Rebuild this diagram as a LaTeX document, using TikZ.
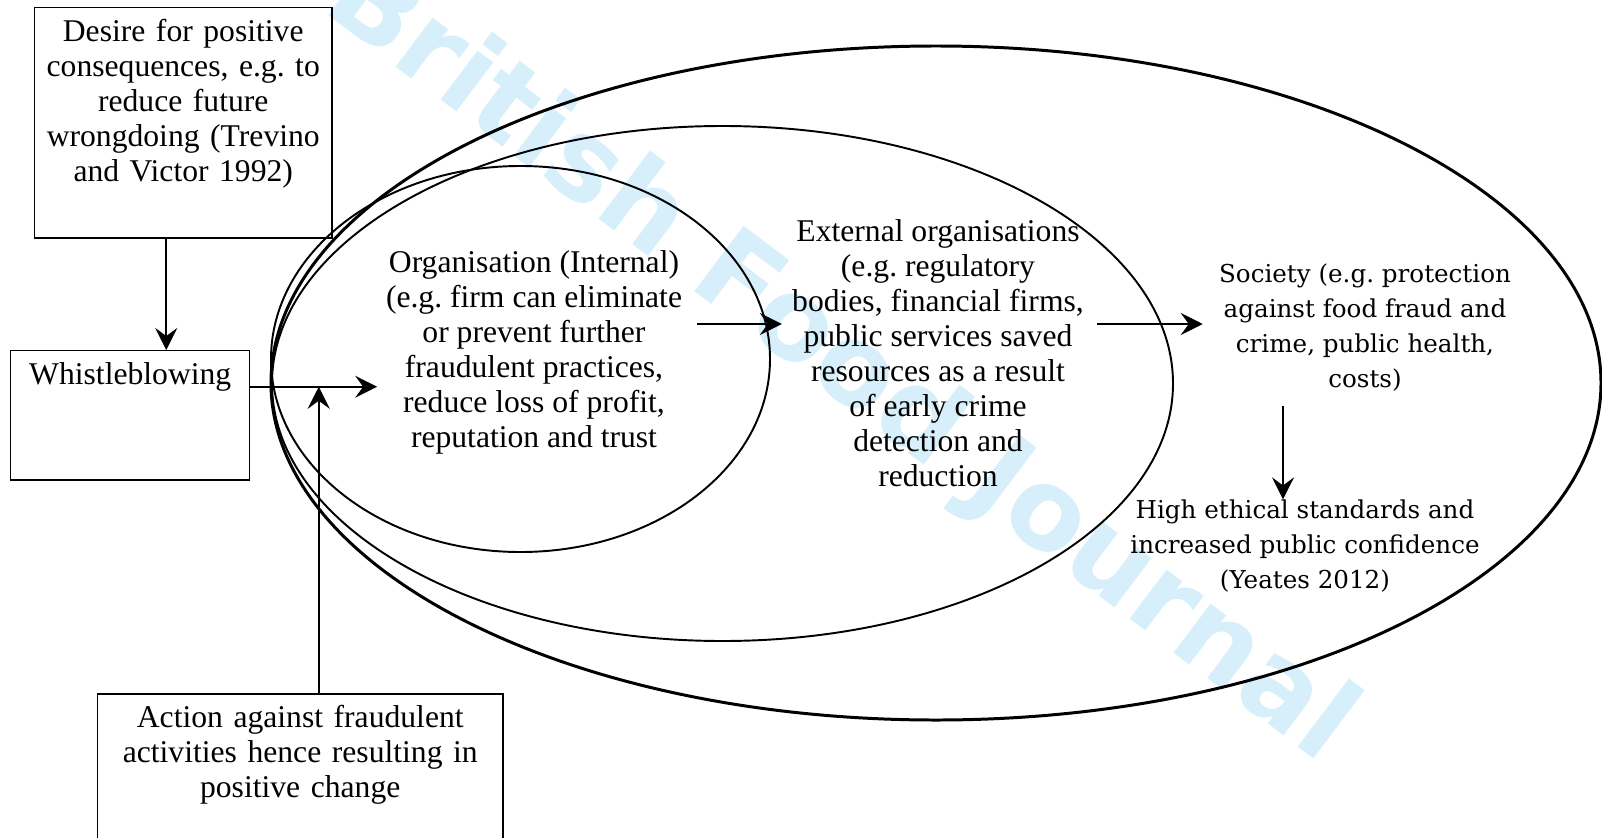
\documentclass[tikz,border=0pt]{standalone}
\usepackage{fontspec}
\setmainfont{Liberation Serif}
\newfontfamily\socfont{DejaVu Serif}
\newfontfamily\wmfont{DejaVu Sans}
\usepackage{xcolor}
\usetikzlibrary{arrows.meta}
\definecolor{wmblue}{RGB}{214,239,250}
\frenchspacing

\begin{document}
\begin{tikzpicture}[x=0.2mm,y=-0.2mm]
\useasboundingbox (0,0) rectangle (1602,838);

\tikzstyle{every node}=[font=\fontsize{18}{19.9}\selectfont]
\tikzstyle{txt}=[inner sep=0pt,align=center]
\tikzstyle{wbox}=[draw,line width=0.85pt,inner sep=0pt,align=center,anchor=north west]
\tikzstyle{arr}=[line width=1.1pt,-{Stealth[length=4.4mm,width=4.4mm,inset=1.6mm]}]

%% watermark
\node[rotate=-37,text=wmblue,font=\wmfont\bfseries\fontsize{64}{70}\selectfont] (wm) at (840,362) {British Food Journal};

%% nested ellipses
\draw[line width=1.7pt] (936,383) ellipse [x radius=133mm,y radius=67.4mm];
\draw[line width=1.1pt] (722.5,383.5) ellipse [x radius=90.1mm,y radius=51.5mm];
\draw[line width=1.1pt] (520.5,359) ellipse [x radius=49.9mm,y radius=38.6mm];

%% boxes
\node[wbox,text width=59.4mm,text height=6.8mm,text depth=39.2mm] (desire) at (34,7)
    {Desire for positive\\ consequences, e.g. to\\ reduce future\\ wrongdoing (Trevino\\ and Victor 1992)};
\node[wbox,text width=47.8mm,text height=6.8mm,text depth=19mm] (whistle) at (10,350) {Whistleblowing};
\node[wbox,text width=81mm,text height=6.8mm,text depth=28.8mm] (action) at (97,693)
    {Action against fraudulent\\ activities hence resulting in\\ positive change};

%% texts inside the ellipses
\node[txt] (org) at (534,352) {Organisation (Internal)\\ (e.g. firm can eliminate\\ or prevent further\\
    fraudulent practices,\\ reduce loss of profit,\\ reputation and trust};
\node[txt] (ext) at (938,353) {External organisations\\ (e.g. regulatory\\ bodies, financial firms,\\
    public services saved\\ resources as a result\\ of early crime\\ detection and\\ reduction};
\node[txt,font=\socfont\fontsize{14}{19.9}\selectfont] (society) at (1365,328)
    {Society (e.g. protection\\ against food fraud and\\ crime, public health,\\ costs)};
\node[txt,font=\socfont\fontsize{14}{19.9}\selectfont] (ethics) at (1305,546)
    {High ethical standards and\\ increased public confidence\\ (Yeates 2012)};

%% arrows
\coordinate (d1) at ([xshift=-3.4mm]desire.south);
\draw[arr] (d1) -- (d1 |- whistle.north);
\coordinate (w1) at ([yshift=5.7mm]whistle.east);
\coordinate (o1) at ([xshift=-1.7mm]org.west);
\draw[arr] (w1) -- (w1 -| o1);
\coordinate (a1) at ([xshift=3.7mm]action.north);
\draw[arr] (a1) -- (a1 |- w1);
\coordinate (e1) at ([shift={(3mm,5.6mm)}]org.east);
\coordinate (e2) at ([xshift=-2mm]ext.west);
\draw[arr] (e1) -- (e1 -| e2);
\coordinate (s0) at ([xshift=2.6mm]ext.east);
\coordinate (s2) at ([xshift=-3.2mm]society.west);
\draw[arr] (e1 -| s0) -- (e1 -| s2);
\coordinate (h1) at ([shift={(-16.4mm,-2.8mm)}]society.south);
\draw[arr] (h1) -- (h1 |- ethics.north);

\end{tikzpicture}
\end{document}
